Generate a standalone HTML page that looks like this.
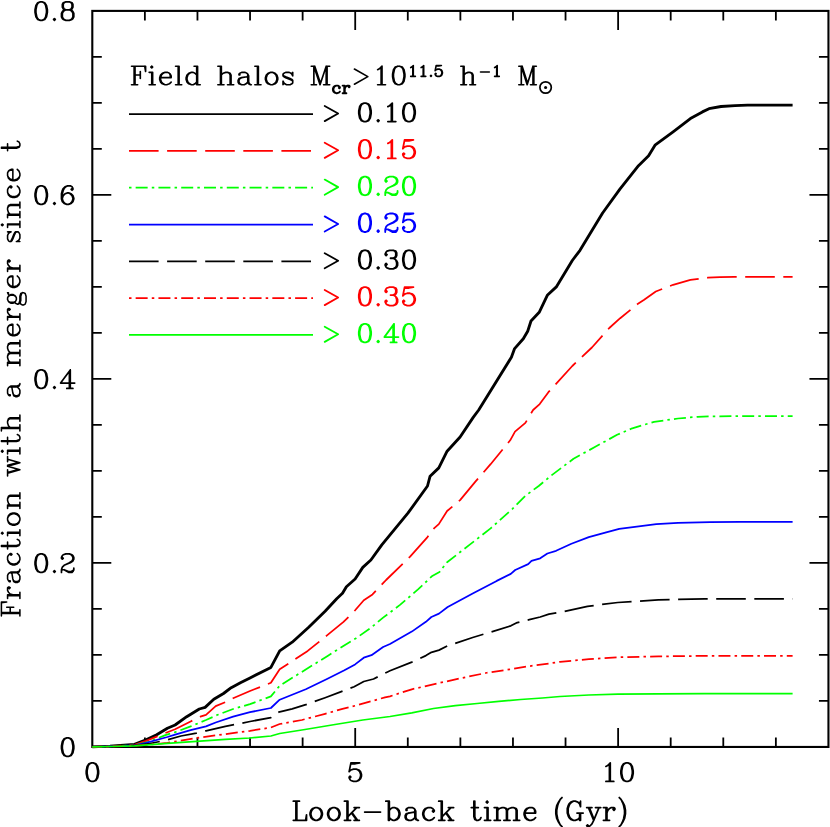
<!DOCTYPE html>
<html><head><meta charset="utf-8"><title>Merger fraction</title>
<style>html,body{margin:0;padding:0;background:#fff;font-family:"Liberation Sans",sans-serif;}svg{display:block}</style></head>
<body>
<svg width="830" height="827" viewBox="0 0 830 827">
<rect width="830" height="827" fill="#fff"/>
<rect x="92.30" y="10.90" width="736.15" height="736.05" fill="none" stroke="#000" stroke-width="2.10"/>
<path d="M144.88 746.95 v-9.50 M144.88 10.90 v9.50 M197.46 746.95 v-9.50 M197.46 10.90 v9.50 M250.05 746.95 v-9.50 M250.05 10.90 v9.50 M302.63 746.95 v-9.50 M302.63 10.90 v9.50 M355.21 746.95 v-19.00 M355.21 10.90 v19.00 M407.79 746.95 v-9.50 M407.79 10.90 v9.50 M460.38 746.95 v-9.50 M460.38 10.90 v9.50 M512.96 746.95 v-9.50 M512.96 10.90 v9.50 M565.54 746.95 v-9.50 M565.54 10.90 v9.50 M618.12 746.95 v-19.00 M618.12 10.90 v19.00 M670.70 746.95 v-9.50 M670.70 10.90 v9.50 M723.29 746.95 v-9.50 M723.29 10.90 v9.50 M775.87 746.95 v-9.50 M775.87 10.90 v9.50 M92.30 700.95 h9.50 M828.45 700.95 h-9.50 M92.30 654.94 h9.50 M828.45 654.94 h-9.50 M92.30 608.94 h9.50 M828.45 608.94 h-9.50 M92.30 562.94 h19.00 M828.45 562.94 h-19.00 M92.30 516.93 h9.50 M828.45 516.93 h-9.50 M92.30 470.93 h9.50 M828.45 470.93 h-9.50 M92.30 424.93 h9.50 M828.45 424.93 h-9.50 M92.30 378.93 h19.00 M828.45 378.93 h-19.00 M92.30 332.92 h9.50 M828.45 332.92 h-9.50 M92.30 286.92 h9.50 M828.45 286.92 h-9.50 M92.30 240.92 h9.50 M828.45 240.92 h-9.50 M92.30 194.91 h19.00 M828.45 194.91 h-19.00 M92.30 148.91 h9.50 M828.45 148.91 h-9.50 M92.30 102.91 h9.50 M828.45 102.91 h-9.50 M92.30 56.90 h9.50 M828.45 56.90 h-9.50" stroke="#000" stroke-width="1.8" fill="none"/>
<path d="M92.3 746.9 L110.0 746.2 L134.5 744.4 L146.1 739.9 L156.7 734.7 L167.4 728.3 L175.1 725.0 L186.7 716.7 L199.3 709.0 L205.1 707.4 L213.8 699.3 L223.5 693.5 L231.2 687.7 L240.9 682.5 L250.0 678.0 L270.9 667.4 L279.7 650.9 L292.2 642.2 L308.7 627.3 L325.1 611.3 L336.7 598.7 L342.5 593.3 L346.4 586.7 L355.1 579.0 L362.8 567.4 L370.9 560.0 L381.8 544.8 L407.9 513.2 L427.5 486.0 L430.1 476.2 L438.8 467.9 L447.1 451.2 L460.1 437.0 L473.2 417.4 L478.7 410.0 L511.4 357.3 L514.6 348.6 L523.3 338.8 L527.7 331.2 L531.0 321.0 L539.2 312.3 L547.3 295.3 L556.6 286.6 L572.3 260.5 L580.0 250.3 L602.6 213.0 L619.9 189.1 L638.5 165.7 L648.6 155.8 L655.0 145.2 L673.1 131.9 L690.4 118.6 L702.4 111.9 L709.0 108.7 L721.0 106.5 L735.0 105.6 L747.6 105.2 L765.0 105.1 L792.6 105.1" fill="none" stroke="#000" stroke-width="2.85" stroke-linejoin="round"/>
<path d="M92.3 746.9 L110.0 746.3 L134.5 744.8 L146.1 740.9 L156.7 736.6 L167.4 732.2 L175.1 729.3 L190.6 721.5 L200.3 716.7 L206.0 714.8 L215.7 706.1 L225.4 702.2 L233.1 698.3 L250.0 691.0 L270.9 682.8 L279.7 669.3 L307.7 650.9 L327.0 635.4 L343.5 621.9 L355.1 610.3 L363.8 600.2 L372.5 594.4 L383.1 583.2 L386.1 580.0 L410.1 556.7 L427.5 537.1 L434.0 528.4 L438.8 524.1 L447.1 511.0 L460.1 500.1 L475.4 481.6 L490.6 464.2 L510.2 440.3 L515.0 431.6 L525.4 422.9 L533.1 410.0 L539.7 404.1 L548.4 392.2 L572.3 366.0 L591.9 347.5 L609.3 328.0 L620.2 318.2 L637.6 304.0 L643.8 300.0 L655.8 291.5 L673.1 284.8 L690.4 279.8 L707.7 277.7 L720.0 277.1 L734.3 276.9 L792.6 276.9" fill="none" stroke="#f00" stroke-width="1.75" stroke-linejoin="round" stroke-dasharray="29.6 8.5" stroke-dashoffset="0.80"/>
<path d="M92.3 746.9 L110.0 746.4 L134.5 745.2 L150.0 741.5 L165.4 735.1 L175.1 732.2 L190.6 726.4 L206.0 720.0 L217.7 714.8 L233.1 709.0 L250.0 704.1 L270.9 696.4 L279.7 685.7 L307.7 668.3 L328.0 655.7 L345.4 644.7 L356.0 638.3 L371.5 627.3 L383.1 617.6 L400.0 604.9 L418.3 589.2 L431.8 576.3 L439.5 572.0 L447.1 562.2 L468.8 545.4 L490.6 528.4 L512.4 508.8 L525.4 495.8 L538.7 486.0 L551.8 475.1 L573.5 458.8 L595.3 446.8 L617.1 434.8 L632.3 428.3 L654.1 421.8 L678.0 418.5 L697.6 416.8 L710.0 416.4 L740.0 416.0 L792.6 416.0" fill="none" stroke="#0f0" stroke-width="1.75" stroke-linejoin="round" stroke-dasharray="2.5 4.15 12 4.13" stroke-dashoffset="7.17"/>
<path d="M92.3 746.9 L110.0 746.4 L134.5 745.4 L146.1 742.8 L167.4 737.0 L175.1 734.7 L190.6 730.2 L206.0 726.4 L215.7 722.5 L233.1 716.7 L250.0 712.2 L270.9 708.0 L279.7 699.7 L305.8 689.2 L327.0 679.0 L344.4 670.3 L355.1 664.4 L363.8 657.7 L371.5 655.2 L383.1 647.0 L390.0 644.0 L411.8 631.6 L425.9 621.8 L431.4 617.0 L439.0 613.6 L447.7 607.0 L472.7 593.5 L496.7 580.9 L510.8 573.9 L515.2 570.0 L528.2 564.1 L531.5 560.9 L540.2 558.3 L547.4 553.5 L556.1 550.8 L571.4 543.7 L588.8 537.1 L606.2 532.3 L619.2 528.9 L638.8 526.3 L656.3 524.1 L678.0 522.9 L710.0 522.1 L740.0 521.9 L792.6 521.9" fill="none" stroke="#00f" stroke-width="1.75" stroke-linejoin="round"/>
<path d="M92.3 746.9 L110.0 746.5 L134.5 745.6 L150.0 743.5 L167.4 739.9 L180.9 736.0 L196.4 733.1 L206.0 730.8 L225.4 726.4 L250.0 721.5 L270.9 717.6 L278.7 712.2 L292.2 708.9 L305.8 704.7 L325.1 697.7 L340.6 691.9 L354.1 686.7 L363.8 681.5 L373.5 679.0 L387.0 672.2 L390.0 670.8 L411.8 662.1 L425.9 655.6 L431.4 652.3 L439.0 650.1 L447.7 645.8 L472.7 637.5 L492.3 631.6 L510.8 625.8 L516.3 622.9 L529.3 619.7 L540.2 617.0 L548.9 614.2 L564.3 611.5 L587.5 606.3 L617.8 602.5 L658.3 599.9 L704.6 598.9 L792.6 598.9" fill="none" stroke="#000" stroke-width="1.75" stroke-linejoin="round" stroke-dasharray="29.6 8.5" stroke-dashoffset="37.98"/>
<path d="M92.3 746.9 L110.0 746.5 L134.5 745.8 L150.0 744.6 L167.4 742.8 L196.4 738.0 L225.4 734.1 L250.0 730.8 L270.9 727.5 L279.7 724.0 L301.9 720.0 L325.1 713.8 L342.5 708.9 L356.0 705.5 L371.5 701.2 L385.0 697.3 L390.0 696.3 L411.8 689.3 L440.1 682.8 L461.8 678.0 L485.8 673.0 L509.7 669.3 L531.5 665.8 L551.1 663.2 L560.0 661.8 L588.9 659.2 L617.8 657.2 L658.3 656.4 L704.6 655.9 L792.6 655.9" fill="none" stroke="#f00" stroke-width="1.75" stroke-linejoin="round" stroke-dasharray="2.5 4.15 12 4.13" stroke-dashoffset="8.95"/>
<path d="M92.3 746.9 L110.0 746.5 L134.5 745.9 L167.4 743.4 L196.4 741.3 L225.4 739.3 L250.0 738.0 L270.9 736.0 L279.7 733.5 L305.0 729.5 L335.0 724.5 L362.8 720.0 L390.0 716.5 L411.8 712.8 L433.5 708.5 L455.3 705.6 L477.1 703.5 L498.8 701.3 L520.6 699.5 L542.4 698.0 L560.0 696.5 L588.9 695.0 L617.8 694.2 L658.3 693.9 L704.6 693.6 L792.6 693.5" fill="none" stroke="#0f0" stroke-width="1.75" stroke-linejoin="round"/>
<path d="M129.0 114.10 H313.0" fill="none" stroke="#000" stroke-width="1.75"/>
<path transform="translate(324.70 121.10)" d="M0.00 -15.12 L13.44 -7.56 L0.00 0.00" fill="none" stroke="#000" stroke-width="1.80" stroke-linecap="round" stroke-linejoin="round"/>
<path transform="translate(358.80 121.60)" d="M5.29 -18.50 L2.64 -17.62 L0.88 -14.98 L0.00 -10.57 L0.00 -7.93 L0.88 -3.52 L2.64 -0.88 L5.29 0.00 L7.05 0.00 L9.69 -0.88 L11.45 -3.52 L12.33 -7.93 L12.33 -10.57 L11.45 -14.98 L9.69 -17.62 L7.05 -18.50 L5.29 -18.50 M5.29 -18.50 L3.52 -17.62 L2.64 -16.74 L1.76 -14.98 L0.88 -10.57 L0.88 -7.93 L1.76 -3.52 L2.64 -1.76 L3.52 -0.88 L5.29 0.00 M7.05 0.00 L8.81 -0.88 L9.69 -1.76 L10.57 -3.52 L11.45 -7.93 L11.45 -10.57 L10.57 -14.98 L9.69 -16.74 L8.81 -17.62 L7.05 -18.50 M19.38 -1.76 L18.50 -0.88 L19.38 0.00 L20.26 -0.88 L19.38 -1.76 M29.07 -14.98 L30.84 -15.86 L33.48 -18.50 L33.48 0.00 M32.60 -17.62 L32.60 0.00 M29.07 0.00 L37.00 0.00 M49.34 -18.50 L46.69 -17.62 L44.93 -14.98 L44.05 -10.57 L44.05 -7.93 L44.93 -3.52 L46.69 -0.88 L49.34 0.00 L51.10 0.00 L53.74 -0.88 L55.50 -3.52 L56.38 -7.93 L56.38 -10.57 L55.50 -14.98 L53.74 -17.62 L51.10 -18.50 L49.34 -18.50 M49.34 -18.50 L47.57 -17.62 L46.69 -16.74 L45.81 -14.98 L44.93 -10.57 L44.93 -7.93 L45.81 -3.52 L46.69 -1.76 L47.57 -0.88 L49.34 0.00 M51.10 0.00 L52.86 -0.88 L53.74 -1.76 L54.62 -3.52 L55.50 -7.93 L55.50 -10.57 L54.62 -14.98 L53.74 -16.74 L52.86 -17.62 L51.10 -18.50" fill="none" stroke="#000" stroke-width="1.80" stroke-linecap="round" stroke-linejoin="round"/>
<path d="M129.0 150.90 H313.0" fill="none" stroke="#f00" stroke-width="1.75" stroke-dasharray="29.6 8.5"/>
<path transform="translate(324.70 157.90)" d="M0.00 -15.12 L13.44 -7.56 L0.00 0.00" fill="none" stroke="#f00" stroke-width="1.80" stroke-linecap="round" stroke-linejoin="round"/>
<path transform="translate(358.80 158.40)" d="M5.29 -18.50 L2.64 -17.62 L0.88 -14.98 L0.00 -10.57 L0.00 -7.93 L0.88 -3.52 L2.64 -0.88 L5.29 0.00 L7.05 0.00 L9.69 -0.88 L11.45 -3.52 L12.33 -7.93 L12.33 -10.57 L11.45 -14.98 L9.69 -17.62 L7.05 -18.50 L5.29 -18.50 M5.29 -18.50 L3.52 -17.62 L2.64 -16.74 L1.76 -14.98 L0.88 -10.57 L0.88 -7.93 L1.76 -3.52 L2.64 -1.76 L3.52 -0.88 L5.29 0.00 M7.05 0.00 L8.81 -0.88 L9.69 -1.76 L10.57 -3.52 L11.45 -7.93 L11.45 -10.57 L10.57 -14.98 L9.69 -16.74 L8.81 -17.62 L7.05 -18.50 M19.38 -1.76 L18.50 -0.88 L19.38 0.00 L20.26 -0.88 L19.38 -1.76 M29.07 -14.98 L30.84 -15.86 L33.48 -18.50 L33.48 0.00 M32.60 -17.62 L32.60 0.00 M29.07 0.00 L37.00 0.00 M45.81 -18.50 L44.05 -9.69 M44.05 -9.69 L45.81 -11.45 L48.45 -12.33 L51.10 -12.33 L53.74 -11.45 L55.50 -9.69 L56.38 -7.05 L56.38 -5.29 L55.50 -2.64 L53.74 -0.88 L51.10 0.00 L48.45 0.00 L45.81 -0.88 L44.93 -1.76 L44.05 -3.52 L44.05 -4.41 L44.93 -5.29 L45.81 -4.41 L44.93 -3.52 M51.10 -12.33 L52.86 -11.45 L54.62 -9.69 L55.50 -7.05 L55.50 -5.29 L54.62 -2.64 L52.86 -0.88 L51.10 0.00 M45.81 -18.50 L54.62 -18.50 M45.81 -17.62 L50.22 -17.62 L54.62 -18.50" fill="none" stroke="#f00" stroke-width="1.80" stroke-linecap="round" stroke-linejoin="round"/>
<path d="M129.0 187.70 H313.0" fill="none" stroke="#0f0" stroke-width="1.75" stroke-dasharray="2.5 4.15 12 4.13"/>
<path transform="translate(324.70 194.70)" d="M0.00 -15.12 L13.44 -7.56 L0.00 0.00" fill="none" stroke="#0f0" stroke-width="1.80" stroke-linecap="round" stroke-linejoin="round"/>
<path transform="translate(358.80 195.20)" d="M5.29 -18.50 L2.64 -17.62 L0.88 -14.98 L0.00 -10.57 L0.00 -7.93 L0.88 -3.52 L2.64 -0.88 L5.29 0.00 L7.05 0.00 L9.69 -0.88 L11.45 -3.52 L12.33 -7.93 L12.33 -10.57 L11.45 -14.98 L9.69 -17.62 L7.05 -18.50 L5.29 -18.50 M5.29 -18.50 L3.52 -17.62 L2.64 -16.74 L1.76 -14.98 L0.88 -10.57 L0.88 -7.93 L1.76 -3.52 L2.64 -1.76 L3.52 -0.88 L5.29 0.00 M7.05 0.00 L8.81 -0.88 L9.69 -1.76 L10.57 -3.52 L11.45 -7.93 L11.45 -10.57 L10.57 -14.98 L9.69 -16.74 L8.81 -17.62 L7.05 -18.50 M19.38 -1.76 L18.50 -0.88 L19.38 0.00 L20.26 -0.88 L19.38 -1.76 M27.31 -14.98 L28.19 -14.10 L27.31 -13.21 L26.43 -14.10 L26.43 -14.98 L27.31 -16.74 L28.19 -17.62 L30.84 -18.50 L34.36 -18.50 L37.00 -17.62 L37.88 -16.74 L38.76 -14.98 L38.76 -13.21 L37.88 -11.45 L35.24 -9.69 L30.84 -7.93 L29.07 -7.05 L27.31 -5.29 L26.43 -2.64 L26.43 0.00 M34.36 -18.50 L36.12 -17.62 L37.00 -16.74 L37.88 -14.98 L37.88 -13.21 L37.00 -11.45 L34.36 -9.69 L30.84 -7.93 M26.43 -1.76 L27.31 -2.64 L29.07 -2.64 L33.48 -0.88 L36.12 -0.88 L37.88 -1.76 L38.76 -2.64 M29.07 -2.64 L33.48 0.00 L37.00 0.00 L37.88 -0.88 L38.76 -2.64 L38.76 -4.41 M49.34 -18.50 L46.69 -17.62 L44.93 -14.98 L44.05 -10.57 L44.05 -7.93 L44.93 -3.52 L46.69 -0.88 L49.34 0.00 L51.10 0.00 L53.74 -0.88 L55.50 -3.52 L56.38 -7.93 L56.38 -10.57 L55.50 -14.98 L53.74 -17.62 L51.10 -18.50 L49.34 -18.50 M49.34 -18.50 L47.57 -17.62 L46.69 -16.74 L45.81 -14.98 L44.93 -10.57 L44.93 -7.93 L45.81 -3.52 L46.69 -1.76 L47.57 -0.88 L49.34 0.00 M51.10 0.00 L52.86 -0.88 L53.74 -1.76 L54.62 -3.52 L55.50 -7.93 L55.50 -10.57 L54.62 -14.98 L53.74 -16.74 L52.86 -17.62 L51.10 -18.50" fill="none" stroke="#0f0" stroke-width="1.80" stroke-linecap="round" stroke-linejoin="round"/>
<path d="M129.0 224.50 H313.0" fill="none" stroke="#00f" stroke-width="1.75"/>
<path transform="translate(324.70 231.50)" d="M0.00 -15.12 L13.44 -7.56 L0.00 0.00" fill="none" stroke="#00f" stroke-width="1.80" stroke-linecap="round" stroke-linejoin="round"/>
<path transform="translate(358.80 232.00)" d="M5.29 -18.50 L2.64 -17.62 L0.88 -14.98 L0.00 -10.57 L0.00 -7.93 L0.88 -3.52 L2.64 -0.88 L5.29 0.00 L7.05 0.00 L9.69 -0.88 L11.45 -3.52 L12.33 -7.93 L12.33 -10.57 L11.45 -14.98 L9.69 -17.62 L7.05 -18.50 L5.29 -18.50 M5.29 -18.50 L3.52 -17.62 L2.64 -16.74 L1.76 -14.98 L0.88 -10.57 L0.88 -7.93 L1.76 -3.52 L2.64 -1.76 L3.52 -0.88 L5.29 0.00 M7.05 0.00 L8.81 -0.88 L9.69 -1.76 L10.57 -3.52 L11.45 -7.93 L11.45 -10.57 L10.57 -14.98 L9.69 -16.74 L8.81 -17.62 L7.05 -18.50 M19.38 -1.76 L18.50 -0.88 L19.38 0.00 L20.26 -0.88 L19.38 -1.76 M27.31 -14.98 L28.19 -14.10 L27.31 -13.21 L26.43 -14.10 L26.43 -14.98 L27.31 -16.74 L28.19 -17.62 L30.84 -18.50 L34.36 -18.50 L37.00 -17.62 L37.88 -16.74 L38.76 -14.98 L38.76 -13.21 L37.88 -11.45 L35.24 -9.69 L30.84 -7.93 L29.07 -7.05 L27.31 -5.29 L26.43 -2.64 L26.43 0.00 M34.36 -18.50 L36.12 -17.62 L37.00 -16.74 L37.88 -14.98 L37.88 -13.21 L37.00 -11.45 L34.36 -9.69 L30.84 -7.93 M26.43 -1.76 L27.31 -2.64 L29.07 -2.64 L33.48 -0.88 L36.12 -0.88 L37.88 -1.76 L38.76 -2.64 M29.07 -2.64 L33.48 0.00 L37.00 0.00 L37.88 -0.88 L38.76 -2.64 L38.76 -4.41 M45.81 -18.50 L44.05 -9.69 M44.05 -9.69 L45.81 -11.45 L48.45 -12.33 L51.10 -12.33 L53.74 -11.45 L55.50 -9.69 L56.38 -7.05 L56.38 -5.29 L55.50 -2.64 L53.74 -0.88 L51.10 0.00 L48.45 0.00 L45.81 -0.88 L44.93 -1.76 L44.05 -3.52 L44.05 -4.41 L44.93 -5.29 L45.81 -4.41 L44.93 -3.52 M51.10 -12.33 L52.86 -11.45 L54.62 -9.69 L55.50 -7.05 L55.50 -5.29 L54.62 -2.64 L52.86 -0.88 L51.10 0.00 M45.81 -18.50 L54.62 -18.50 M45.81 -17.62 L50.22 -17.62 L54.62 -18.50" fill="none" stroke="#00f" stroke-width="1.80" stroke-linecap="round" stroke-linejoin="round"/>
<path d="M129.0 261.30 H313.0" fill="none" stroke="#000" stroke-width="1.75" stroke-dasharray="29.6 8.5"/>
<path transform="translate(324.70 268.30)" d="M0.00 -15.12 L13.44 -7.56 L0.00 0.00" fill="none" stroke="#000" stroke-width="1.80" stroke-linecap="round" stroke-linejoin="round"/>
<path transform="translate(358.80 268.80)" d="M5.29 -18.50 L2.64 -17.62 L0.88 -14.98 L0.00 -10.57 L0.00 -7.93 L0.88 -3.52 L2.64 -0.88 L5.29 0.00 L7.05 0.00 L9.69 -0.88 L11.45 -3.52 L12.33 -7.93 L12.33 -10.57 L11.45 -14.98 L9.69 -17.62 L7.05 -18.50 L5.29 -18.50 M5.29 -18.50 L3.52 -17.62 L2.64 -16.74 L1.76 -14.98 L0.88 -10.57 L0.88 -7.93 L1.76 -3.52 L2.64 -1.76 L3.52 -0.88 L5.29 0.00 M7.05 0.00 L8.81 -0.88 L9.69 -1.76 L10.57 -3.52 L11.45 -7.93 L11.45 -10.57 L10.57 -14.98 L9.69 -16.74 L8.81 -17.62 L7.05 -18.50 M19.38 -1.76 L18.50 -0.88 L19.38 0.00 L20.26 -0.88 L19.38 -1.76 M27.31 -14.98 L28.19 -14.10 L27.31 -13.21 L26.43 -14.10 L26.43 -14.98 L27.31 -16.74 L28.19 -17.62 L30.84 -18.50 L34.36 -18.50 L37.00 -17.62 L37.88 -15.86 L37.88 -13.21 L37.00 -11.45 L34.36 -10.57 L31.72 -10.57 M34.36 -18.50 L36.12 -17.62 L37.00 -15.86 L37.00 -13.21 L36.12 -11.45 L34.36 -10.57 M34.36 -10.57 L36.12 -9.69 L37.88 -7.93 L38.76 -6.17 L38.76 -3.52 L37.88 -1.76 L37.00 -0.88 L34.36 0.00 L30.84 0.00 L28.19 -0.88 L27.31 -1.76 L26.43 -3.52 L26.43 -4.41 L27.31 -5.29 L28.19 -4.41 L27.31 -3.52 M37.00 -8.81 L37.88 -6.17 L37.88 -3.52 L37.00 -1.76 L36.12 -0.88 L34.36 0.00 M49.34 -18.50 L46.69 -17.62 L44.93 -14.98 L44.05 -10.57 L44.05 -7.93 L44.93 -3.52 L46.69 -0.88 L49.34 0.00 L51.10 0.00 L53.74 -0.88 L55.50 -3.52 L56.38 -7.93 L56.38 -10.57 L55.50 -14.98 L53.74 -17.62 L51.10 -18.50 L49.34 -18.50 M49.34 -18.50 L47.57 -17.62 L46.69 -16.74 L45.81 -14.98 L44.93 -10.57 L44.93 -7.93 L45.81 -3.52 L46.69 -1.76 L47.57 -0.88 L49.34 0.00 M51.10 0.00 L52.86 -0.88 L53.74 -1.76 L54.62 -3.52 L55.50 -7.93 L55.50 -10.57 L54.62 -14.98 L53.74 -16.74 L52.86 -17.62 L51.10 -18.50" fill="none" stroke="#000" stroke-width="1.80" stroke-linecap="round" stroke-linejoin="round"/>
<path d="M129.0 298.10 H313.0" fill="none" stroke="#f00" stroke-width="1.75" stroke-dasharray="2.5 4.15 12 4.13"/>
<path transform="translate(324.70 305.10)" d="M0.00 -15.12 L13.44 -7.56 L0.00 0.00" fill="none" stroke="#f00" stroke-width="1.80" stroke-linecap="round" stroke-linejoin="round"/>
<path transform="translate(358.80 305.60)" d="M5.29 -18.50 L2.64 -17.62 L0.88 -14.98 L0.00 -10.57 L0.00 -7.93 L0.88 -3.52 L2.64 -0.88 L5.29 0.00 L7.05 0.00 L9.69 -0.88 L11.45 -3.52 L12.33 -7.93 L12.33 -10.57 L11.45 -14.98 L9.69 -17.62 L7.05 -18.50 L5.29 -18.50 M5.29 -18.50 L3.52 -17.62 L2.64 -16.74 L1.76 -14.98 L0.88 -10.57 L0.88 -7.93 L1.76 -3.52 L2.64 -1.76 L3.52 -0.88 L5.29 0.00 M7.05 0.00 L8.81 -0.88 L9.69 -1.76 L10.57 -3.52 L11.45 -7.93 L11.45 -10.57 L10.57 -14.98 L9.69 -16.74 L8.81 -17.62 L7.05 -18.50 M19.38 -1.76 L18.50 -0.88 L19.38 0.00 L20.26 -0.88 L19.38 -1.76 M27.31 -14.98 L28.19 -14.10 L27.31 -13.21 L26.43 -14.10 L26.43 -14.98 L27.31 -16.74 L28.19 -17.62 L30.84 -18.50 L34.36 -18.50 L37.00 -17.62 L37.88 -15.86 L37.88 -13.21 L37.00 -11.45 L34.36 -10.57 L31.72 -10.57 M34.36 -18.50 L36.12 -17.62 L37.00 -15.86 L37.00 -13.21 L36.12 -11.45 L34.36 -10.57 M34.36 -10.57 L36.12 -9.69 L37.88 -7.93 L38.76 -6.17 L38.76 -3.52 L37.88 -1.76 L37.00 -0.88 L34.36 0.00 L30.84 0.00 L28.19 -0.88 L27.31 -1.76 L26.43 -3.52 L26.43 -4.41 L27.31 -5.29 L28.19 -4.41 L27.31 -3.52 M37.00 -8.81 L37.88 -6.17 L37.88 -3.52 L37.00 -1.76 L36.12 -0.88 L34.36 0.00 M45.81 -18.50 L44.05 -9.69 M44.05 -9.69 L45.81 -11.45 L48.45 -12.33 L51.10 -12.33 L53.74 -11.45 L55.50 -9.69 L56.38 -7.05 L56.38 -5.29 L55.50 -2.64 L53.74 -0.88 L51.10 0.00 L48.45 0.00 L45.81 -0.88 L44.93 -1.76 L44.05 -3.52 L44.05 -4.41 L44.93 -5.29 L45.81 -4.41 L44.93 -3.52 M51.10 -12.33 L52.86 -11.45 L54.62 -9.69 L55.50 -7.05 L55.50 -5.29 L54.62 -2.64 L52.86 -0.88 L51.10 0.00 M45.81 -18.50 L54.62 -18.50 M45.81 -17.62 L50.22 -17.62 L54.62 -18.50" fill="none" stroke="#f00" stroke-width="1.80" stroke-linecap="round" stroke-linejoin="round"/>
<path d="M129.0 334.90 H313.0" fill="none" stroke="#0f0" stroke-width="1.75"/>
<path transform="translate(324.70 341.90)" d="M0.00 -15.12 L13.44 -7.56 L0.00 0.00" fill="none" stroke="#0f0" stroke-width="1.80" stroke-linecap="round" stroke-linejoin="round"/>
<path transform="translate(358.80 342.40)" d="M5.29 -18.50 L2.64 -17.62 L0.88 -14.98 L0.00 -10.57 L0.00 -7.93 L0.88 -3.52 L2.64 -0.88 L5.29 0.00 L7.05 0.00 L9.69 -0.88 L11.45 -3.52 L12.33 -7.93 L12.33 -10.57 L11.45 -14.98 L9.69 -17.62 L7.05 -18.50 L5.29 -18.50 M5.29 -18.50 L3.52 -17.62 L2.64 -16.74 L1.76 -14.98 L0.88 -10.57 L0.88 -7.93 L1.76 -3.52 L2.64 -1.76 L3.52 -0.88 L5.29 0.00 M7.05 0.00 L8.81 -0.88 L9.69 -1.76 L10.57 -3.52 L11.45 -7.93 L11.45 -10.57 L10.57 -14.98 L9.69 -16.74 L8.81 -17.62 L7.05 -18.50 M19.38 -1.76 L18.50 -0.88 L19.38 0.00 L20.26 -0.88 L19.38 -1.76 M34.36 -16.74 L34.36 0.00 M35.24 -18.50 L35.24 0.00 M35.24 -18.50 L25.55 -5.29 L39.65 -5.29 M31.72 0.00 L37.88 0.00 M49.34 -18.50 L46.69 -17.62 L44.93 -14.98 L44.05 -10.57 L44.05 -7.93 L44.93 -3.52 L46.69 -0.88 L49.34 0.00 L51.10 0.00 L53.74 -0.88 L55.50 -3.52 L56.38 -7.93 L56.38 -10.57 L55.50 -14.98 L53.74 -17.62 L51.10 -18.50 L49.34 -18.50 M49.34 -18.50 L47.57 -17.62 L46.69 -16.74 L45.81 -14.98 L44.93 -10.57 L44.93 -7.93 L45.81 -3.52 L46.69 -1.76 L47.57 -0.88 L49.34 0.00 M51.10 0.00 L52.86 -0.88 L53.74 -1.76 L54.62 -3.52 L55.50 -7.93 L55.50 -10.57 L54.62 -14.98 L53.74 -16.74 L52.86 -17.62 L51.10 -18.50" fill="none" stroke="#0f0" stroke-width="1.80" stroke-linecap="round" stroke-linejoin="round"/>
<path transform="translate(131.50 84.70)" d="M2.64 -18.50 L2.64 0.00 M3.52 -18.50 L3.52 0.00 M8.81 -13.21 L8.81 -6.17 M0.00 -18.50 L14.10 -18.50 L14.10 -13.21 L13.21 -18.50 M3.52 -9.69 L8.81 -9.69 M0.00 0.00 L6.17 0.00 M20.26 -18.50 L19.38 -17.62 L20.26 -16.74 L21.14 -17.62 L20.26 -18.50 M20.26 -12.33 L20.26 0.00 M21.14 -12.33 L21.14 0.00 M17.62 -12.33 L21.14 -12.33 M17.62 0.00 L23.79 0.00 M29.07 -7.05 L39.65 -7.05 L39.65 -8.81 L38.76 -10.57 L37.88 -11.45 L36.12 -12.33 L33.48 -12.33 L30.84 -11.45 L29.07 -9.69 L28.19 -7.05 L28.19 -5.29 L29.07 -2.64 L30.84 -0.88 L33.48 0.00 L35.24 0.00 L37.88 -0.88 L39.65 -2.64 M38.76 -7.05 L38.76 -9.69 L37.88 -11.45 M33.48 -12.33 L31.72 -11.45 L29.95 -9.69 L29.07 -7.05 L29.07 -5.29 L29.95 -2.64 L31.72 -0.88 L33.48 0.00 M46.69 -18.50 L46.69 0.00 M47.57 -18.50 L47.57 0.00 M44.05 -18.50 L47.57 -18.50 M44.05 0.00 L50.22 0.00 M65.19 -18.50 L65.19 0.00 M66.08 -18.50 L66.08 0.00 M65.19 -9.69 L63.43 -11.45 L61.67 -12.33 L59.91 -12.33 L57.27 -11.45 L55.50 -9.69 L54.62 -7.05 L54.62 -5.29 L55.50 -2.64 L57.27 -0.88 L59.91 0.00 L61.67 0.00 L63.43 -0.88 L65.19 -2.64 M59.91 -12.33 L58.15 -11.45 L56.38 -9.69 L55.50 -7.05 L55.50 -5.29 L56.38 -2.64 L58.15 -0.88 L59.91 0.00 M62.55 -18.50 L66.08 -18.50 M65.19 0.00 L68.72 0.00 M88.98 -18.50 L88.98 0.00 M89.86 -18.50 L89.86 0.00 M89.86 -9.69 L91.62 -11.45 L94.27 -12.33 L96.03 -12.33 L98.67 -11.45 L99.55 -9.69 L99.55 0.00 M96.03 -12.33 L97.79 -11.45 L98.67 -9.69 L98.67 0.00 M86.34 -18.50 L89.86 -18.50 M86.34 0.00 L92.50 0.00 M96.03 0.00 L102.20 0.00 M108.36 -10.57 L108.36 -9.69 L107.48 -9.69 L107.48 -10.57 L108.36 -11.45 L110.12 -12.33 L113.65 -12.33 L115.41 -11.45 L116.29 -10.57 L117.17 -8.81 L117.17 -2.64 L118.05 -0.88 L118.94 0.00 M116.29 -10.57 L116.29 -2.64 L117.17 -0.88 L118.94 0.00 L119.82 0.00 M116.29 -8.81 L115.41 -7.93 L110.12 -7.05 L107.48 -6.17 L106.60 -4.41 L106.60 -2.64 L107.48 -0.88 L110.12 0.00 L112.77 0.00 L114.53 -0.88 L116.29 -2.64 M110.12 -7.05 L108.36 -6.17 L107.48 -4.41 L107.48 -2.64 L108.36 -0.88 L110.12 0.00 M125.98 -18.50 L125.98 0.00 M126.86 -18.50 L126.86 0.00 M123.34 -18.50 L126.86 -18.50 M123.34 0.00 L129.51 0.00 M139.20 -12.33 L136.56 -11.45 L134.79 -9.69 L133.91 -7.05 L133.91 -5.29 L134.79 -2.64 L136.56 -0.88 L139.20 0.00 L140.96 0.00 L143.60 -0.88 L145.37 -2.64 L146.25 -5.29 L146.25 -7.05 L145.37 -9.69 L143.60 -11.45 L140.96 -12.33 L139.20 -12.33 M139.20 -12.33 L137.44 -11.45 L135.67 -9.69 L134.79 -7.05 L134.79 -5.29 L135.67 -2.64 L137.44 -0.88 L139.20 0.00 M140.96 0.00 L142.72 -0.88 L144.48 -2.64 L145.37 -5.29 L145.37 -7.05 L144.48 -9.69 L142.72 -11.45 L140.96 -12.33 M160.34 -10.57 L161.22 -12.33 L161.22 -8.81 L160.34 -10.57 L159.46 -11.45 L157.70 -12.33 L154.18 -12.33 L152.41 -11.45 L151.53 -10.57 L151.53 -8.81 L152.41 -7.93 L154.18 -7.05 L158.58 -5.29 L160.34 -4.41 L161.22 -3.52 M151.53 -9.69 L152.41 -8.81 L154.18 -7.93 L158.58 -6.17 L160.34 -5.29 L161.22 -4.41 L161.22 -1.76 L160.34 -0.88 L158.58 0.00 L155.06 0.00 L153.29 -0.88 L152.41 -1.76 L151.53 -3.52 L151.53 0.00 L152.41 -1.76 M182.37 -18.50 L182.37 0.00 M183.25 -18.50 L188.53 -2.64 M182.37 -18.50 L188.53 0.00 M194.70 -18.50 L188.53 0.00 M194.70 -18.50 L194.70 0.00 M195.58 -18.50 L195.58 0.00 M179.72 -18.50 L183.25 -18.50 M194.70 -18.50 L198.22 -18.50 M179.72 0.00 L185.01 0.00 M192.06 0.00 L198.22 0.00" fill="none" stroke="#000" stroke-width="1.65" stroke-linecap="round" stroke-linejoin="round"/>
<path transform="translate(332.90 93.20)" d="M6.48 -5.94 L5.94 -5.40 L6.48 -4.86 L7.02 -5.40 L7.02 -5.94 L5.94 -7.02 L4.86 -7.56 L3.24 -7.56 L1.62 -7.02 L0.54 -5.94 L0.00 -4.32 L0.00 -3.24 L0.54 -1.62 L1.62 -0.54 L3.24 0.00 L4.32 0.00 L5.94 -0.54 L7.02 -1.62 M3.24 -7.56 L2.16 -7.02 L1.08 -5.94 L0.54 -4.32 L0.54 -3.24 L1.08 -1.62 L2.16 -0.54 L3.24 0.00 M11.34 -7.56 L11.34 0.00 M11.88 -7.56 L11.88 0.00 M11.88 -4.32 L12.42 -5.94 L13.50 -7.02 L14.58 -7.56 L16.20 -7.56 L16.74 -7.02 L16.74 -6.48 L16.20 -5.94 L15.66 -6.48 L16.20 -7.02 M9.72 -7.56 L11.88 -7.56 M9.72 0.00 L13.50 0.00" fill="none" stroke="#000" stroke-width="1.90" stroke-linecap="round" stroke-linejoin="round"/>
<path transform="translate(354.40 84.20)" d="M0.00 -15.12 L13.44 -7.56 L0.00 0.00" fill="none" stroke="#000" stroke-width="1.65" stroke-linecap="round" stroke-linejoin="round"/>
<path transform="translate(377.60 84.70)" d="M0.00 -14.98 L1.76 -15.86 L4.41 -18.50 L4.41 0.00 M3.52 -17.62 L3.52 0.00 M0.00 0.00 L7.93 0.00 M20.26 -18.50 L17.62 -17.62 L15.86 -14.98 L14.98 -10.57 L14.98 -7.93 L15.86 -3.52 L17.62 -0.88 L20.26 0.00 L22.02 0.00 L24.67 -0.88 L26.43 -3.52 L27.31 -7.93 L27.31 -10.57 L26.43 -14.98 L24.67 -17.62 L22.02 -18.50 L20.26 -18.50 M20.26 -18.50 L18.50 -17.62 L17.62 -16.74 L16.74 -14.98 L15.86 -10.57 L15.86 -7.93 L16.74 -3.52 L17.62 -1.76 L18.50 -0.88 L20.26 0.00 M22.02 0.00 L23.79 -0.88 L24.67 -1.76 L25.55 -3.52 L26.43 -7.93 L26.43 -10.57 L25.55 -14.98 L24.67 -16.74 L23.79 -17.62 L22.02 -18.50" fill="none" stroke="#000" stroke-width="1.65" stroke-linecap="round" stroke-linejoin="round"/>
<path transform="translate(410.70 76.40)" d="M0.00 -8.84 L1.04 -9.36 L2.60 -10.92 L2.60 0.00 M2.08 -10.40 L2.08 0.00 M0.00 0.00 L4.68 0.00 M10.40 -8.84 L11.44 -9.36 L13.00 -10.92 L13.00 0.00 M12.48 -10.40 L12.48 0.00 M10.40 0.00 L15.08 0.00 M20.28 -1.04 L19.76 -0.52 L20.28 0.00 L20.80 -0.52 L20.28 -1.04 M25.48 -10.92 L24.44 -5.72 M24.44 -5.72 L25.48 -6.76 L27.04 -7.28 L28.60 -7.28 L30.16 -6.76 L31.20 -5.72 L31.72 -4.16 L31.72 -3.12 L31.20 -1.56 L30.16 -0.52 L28.60 0.00 L27.04 0.00 L25.48 -0.52 L24.96 -1.04 L24.44 -2.08 L24.44 -2.60 L24.96 -3.12 L25.48 -2.60 L24.96 -2.08 M28.60 -7.28 L29.64 -6.76 L30.68 -5.72 L31.20 -4.16 L31.20 -3.12 L30.68 -1.56 L29.64 -0.52 L28.60 0.00 M25.48 -10.92 L30.68 -10.92 M25.48 -10.40 L28.08 -10.40 L30.68 -10.92" fill="none" stroke="#000" stroke-width="1.60" stroke-linecap="round" stroke-linejoin="round"/>
<path transform="translate(460.80 84.70)" d="M2.46 -18.50 L2.46 0.00 M3.28 -18.50 L3.28 0.00 M3.28 -9.69 L4.92 -11.45 L7.38 -12.33 L9.02 -12.33 L11.48 -11.45 L12.30 -9.69 L12.30 0.00 M9.02 -12.33 L10.66 -11.45 L11.48 -9.69 L11.48 0.00 M0.00 -18.50 L3.28 -18.50 M0.00 0.00 L5.74 0.00 M9.02 0.00 L14.76 0.00" fill="none" stroke="#000" stroke-width="1.65" stroke-linecap="round" stroke-linejoin="round"/>
<path transform="translate(480.50 76.40)" d="M0.00 -4.41 L8.82 -4.41" fill="none" stroke="#000" stroke-width="1.60" stroke-linecap="round" stroke-linejoin="round"/>
<path transform="translate(494.60 76.40)" d="M0.00 -8.84 L1.04 -9.36 L2.60 -10.92 L2.60 0.00 M2.08 -10.40 L2.08 0.00 M0.00 0.00 L4.68 0.00" fill="none" stroke="#000" stroke-width="1.60" stroke-linecap="round" stroke-linejoin="round"/>
<path transform="translate(518.80 84.70)" d="M2.50 -18.50 L2.50 0.00 M3.34 -18.50 L8.35 -2.64 M2.50 -18.50 L8.35 0.00 M14.20 -18.50 L8.35 0.00 M14.20 -18.50 L14.20 0.00 M15.03 -18.50 L15.03 0.00 M0.00 -18.50 L3.34 -18.50 M14.20 -18.50 L17.54 -18.50 M0.00 0.00 L5.01 0.00 M11.69 0.00 L17.54 0.00" fill="none" stroke="#000" stroke-width="1.65" stroke-linecap="round" stroke-linejoin="round"/>
<circle cx="545.6" cy="87.5" r="5.7" fill="none" stroke="#000" stroke-width="1.7"/><circle cx="545.6" cy="87.5" r="1.55" fill="#000"/>
<path transform="translate(76.45 20.35)" d="M-36.12 -18.50 L-38.76 -17.62 L-40.53 -14.98 L-41.41 -10.57 L-41.41 -7.93 L-40.53 -3.52 L-38.76 -0.88 L-36.12 0.00 L-34.36 0.00 L-31.72 -0.88 L-29.95 -3.52 L-29.07 -7.93 L-29.07 -10.57 L-29.95 -14.98 L-31.72 -17.62 L-34.36 -18.50 L-36.12 -18.50 M-36.12 -18.50 L-37.88 -17.62 L-38.76 -16.74 L-39.65 -14.98 L-40.53 -10.57 L-40.53 -7.93 L-39.65 -3.52 L-38.76 -1.76 L-37.88 -0.88 L-36.12 0.00 M-34.36 0.00 L-32.60 -0.88 L-31.72 -1.76 L-30.84 -3.52 L-29.95 -7.93 L-29.95 -10.57 L-30.84 -14.98 L-31.72 -16.74 L-32.60 -17.62 L-34.36 -18.50 M-22.02 -1.76 L-22.91 -0.88 L-22.02 0.00 L-21.14 -0.88 L-22.02 -1.76 M-10.57 -18.50 L-13.21 -17.62 L-14.10 -15.86 L-14.10 -13.21 L-13.21 -11.45 L-10.57 -10.57 L-7.05 -10.57 L-4.41 -11.45 L-3.52 -13.21 L-3.52 -15.86 L-4.41 -17.62 L-7.05 -18.50 L-10.57 -18.50 M-10.57 -18.50 L-12.33 -17.62 L-13.21 -15.86 L-13.21 -13.21 L-12.33 -11.45 L-10.57 -10.57 M-7.05 -10.57 L-5.29 -11.45 L-4.41 -13.21 L-4.41 -15.86 L-5.29 -17.62 L-7.05 -18.50 M-10.57 -10.57 L-13.21 -9.69 L-14.10 -8.81 L-14.98 -7.05 L-14.98 -3.52 L-14.10 -1.76 L-13.21 -0.88 L-10.57 0.00 L-7.05 0.00 L-4.41 -0.88 L-3.52 -1.76 L-2.64 -3.52 L-2.64 -7.05 L-3.52 -8.81 L-4.41 -9.69 L-7.05 -10.57 M-10.57 -10.57 L-12.33 -9.69 L-13.21 -8.81 L-14.10 -7.05 L-14.10 -3.52 L-13.21 -1.76 L-12.33 -0.88 L-10.57 0.00 M-7.05 0.00 L-5.29 -0.88 L-4.41 -1.76 L-3.52 -3.52 L-3.52 -7.05 L-4.41 -8.81 L-5.29 -9.69 L-7.05 -10.57" fill="none" stroke="#000" stroke-width="1.70" stroke-linecap="round" stroke-linejoin="round"/>
<path transform="translate(76.45 204.36)" d="M-36.12 -18.50 L-38.76 -17.62 L-40.53 -14.98 L-41.41 -10.57 L-41.41 -7.93 L-40.53 -3.52 L-38.76 -0.88 L-36.12 0.00 L-34.36 0.00 L-31.72 -0.88 L-29.95 -3.52 L-29.07 -7.93 L-29.07 -10.57 L-29.95 -14.98 L-31.72 -17.62 L-34.36 -18.50 L-36.12 -18.50 M-36.12 -18.50 L-37.88 -17.62 L-38.76 -16.74 L-39.65 -14.98 L-40.53 -10.57 L-40.53 -7.93 L-39.65 -3.52 L-38.76 -1.76 L-37.88 -0.88 L-36.12 0.00 M-34.36 0.00 L-32.60 -0.88 L-31.72 -1.76 L-30.84 -3.52 L-29.95 -7.93 L-29.95 -10.57 L-30.84 -14.98 L-31.72 -16.74 L-32.60 -17.62 L-34.36 -18.50 M-22.02 -1.76 L-22.91 -0.88 L-22.02 0.00 L-21.14 -0.88 L-22.02 -1.76 M-4.41 -15.86 L-5.29 -14.98 L-4.41 -14.10 L-3.52 -14.98 L-3.52 -15.86 L-4.41 -17.62 L-6.17 -18.50 L-8.81 -18.50 L-11.45 -17.62 L-13.21 -15.86 L-14.10 -14.10 L-14.98 -10.57 L-14.98 -5.29 L-14.10 -2.64 L-12.33 -0.88 L-9.69 0.00 L-7.93 0.00 L-5.29 -0.88 L-3.52 -2.64 L-2.64 -5.29 L-2.64 -6.17 L-3.52 -8.81 L-5.29 -10.57 L-7.93 -11.45 L-8.81 -11.45 L-11.45 -10.57 L-13.21 -8.81 L-14.10 -6.17 M-8.81 -18.50 L-10.57 -17.62 L-12.33 -15.86 L-13.21 -14.10 L-14.10 -10.57 L-14.10 -5.29 L-13.21 -2.64 L-11.45 -0.88 L-9.69 0.00 M-7.93 0.00 L-6.17 -0.88 L-4.41 -2.64 L-3.52 -5.29 L-3.52 -6.17 L-4.41 -8.81 L-6.17 -10.57 L-7.93 -11.45" fill="none" stroke="#000" stroke-width="1.70" stroke-linecap="round" stroke-linejoin="round"/>
<path transform="translate(76.45 388.38)" d="M-36.12 -18.50 L-38.76 -17.62 L-40.53 -14.98 L-41.41 -10.57 L-41.41 -7.93 L-40.53 -3.52 L-38.76 -0.88 L-36.12 0.00 L-34.36 0.00 L-31.72 -0.88 L-29.95 -3.52 L-29.07 -7.93 L-29.07 -10.57 L-29.95 -14.98 L-31.72 -17.62 L-34.36 -18.50 L-36.12 -18.50 M-36.12 -18.50 L-37.88 -17.62 L-38.76 -16.74 L-39.65 -14.98 L-40.53 -10.57 L-40.53 -7.93 L-39.65 -3.52 L-38.76 -1.76 L-37.88 -0.88 L-36.12 0.00 M-34.36 0.00 L-32.60 -0.88 L-31.72 -1.76 L-30.84 -3.52 L-29.95 -7.93 L-29.95 -10.57 L-30.84 -14.98 L-31.72 -16.74 L-32.60 -17.62 L-34.36 -18.50 M-22.02 -1.76 L-22.91 -0.88 L-22.02 0.00 L-21.14 -0.88 L-22.02 -1.76 M-7.05 -16.74 L-7.05 0.00 M-6.17 -18.50 L-6.17 0.00 M-6.17 -18.50 L-15.86 -5.29 L-1.76 -5.29 M-9.69 0.00 L-3.52 0.00" fill="none" stroke="#000" stroke-width="1.70" stroke-linecap="round" stroke-linejoin="round"/>
<path transform="translate(76.45 572.39)" d="M-36.12 -18.50 L-38.76 -17.62 L-40.53 -14.98 L-41.41 -10.57 L-41.41 -7.93 L-40.53 -3.52 L-38.76 -0.88 L-36.12 0.00 L-34.36 0.00 L-31.72 -0.88 L-29.95 -3.52 L-29.07 -7.93 L-29.07 -10.57 L-29.95 -14.98 L-31.72 -17.62 L-34.36 -18.50 L-36.12 -18.50 M-36.12 -18.50 L-37.88 -17.62 L-38.76 -16.74 L-39.65 -14.98 L-40.53 -10.57 L-40.53 -7.93 L-39.65 -3.52 L-38.76 -1.76 L-37.88 -0.88 L-36.12 0.00 M-34.36 0.00 L-32.60 -0.88 L-31.72 -1.76 L-30.84 -3.52 L-29.95 -7.93 L-29.95 -10.57 L-30.84 -14.98 L-31.72 -16.74 L-32.60 -17.62 L-34.36 -18.50 M-22.02 -1.76 L-22.91 -0.88 L-22.02 0.00 L-21.14 -0.88 L-22.02 -1.76 M-14.10 -14.98 L-13.21 -14.10 L-14.10 -13.21 L-14.98 -14.10 L-14.98 -14.98 L-14.10 -16.74 L-13.21 -17.62 L-10.57 -18.50 L-7.05 -18.50 L-4.41 -17.62 L-3.52 -16.74 L-2.64 -14.98 L-2.64 -13.21 L-3.52 -11.45 L-6.17 -9.69 L-10.57 -7.93 L-12.33 -7.05 L-14.10 -5.29 L-14.98 -2.64 L-14.98 0.00 M-7.05 -18.50 L-5.29 -17.62 L-4.41 -16.74 L-3.52 -14.98 L-3.52 -13.21 L-4.41 -11.45 L-7.05 -9.69 L-10.57 -7.93 M-14.98 -1.76 L-14.10 -2.64 L-12.33 -2.64 L-7.93 -0.88 L-5.29 -0.88 L-3.52 -1.76 L-2.64 -2.64 M-12.33 -2.64 L-7.93 0.00 L-4.41 0.00 L-3.52 -0.88 L-2.64 -2.64 L-2.64 -4.41" fill="none" stroke="#000" stroke-width="1.70" stroke-linecap="round" stroke-linejoin="round"/>
<path transform="translate(76.45 756.40)" d="M-9.69 -18.50 L-12.33 -17.62 L-14.10 -14.98 L-14.98 -10.57 L-14.98 -7.93 L-14.10 -3.52 L-12.33 -0.88 L-9.69 0.00 L-7.93 0.00 L-5.29 -0.88 L-3.52 -3.52 L-2.64 -7.93 L-2.64 -10.57 L-3.52 -14.98 L-5.29 -17.62 L-7.93 -18.50 L-9.69 -18.50 M-9.69 -18.50 L-11.45 -17.62 L-12.33 -16.74 L-13.21 -14.98 L-14.10 -10.57 L-14.10 -7.93 L-13.21 -3.52 L-12.33 -1.76 L-11.45 -0.88 L-9.69 0.00 M-7.93 0.00 L-6.17 -0.88 L-5.29 -1.76 L-4.41 -3.52 L-3.52 -7.93 L-3.52 -10.57 L-4.41 -14.98 L-5.29 -16.74 L-6.17 -17.62 L-7.93 -18.50" fill="none" stroke="#000" stroke-width="1.70" stroke-linecap="round" stroke-linejoin="round"/>
<path transform="translate(92.40 781.40)" d="M-0.88 -18.50 L-3.52 -17.62 L-5.29 -14.98 L-6.17 -10.57 L-6.17 -7.93 L-5.29 -3.52 L-3.52 -0.88 L-0.88 0.00 L0.88 0.00 L3.52 -0.88 L5.29 -3.52 L6.17 -7.93 L6.17 -10.57 L5.29 -14.98 L3.52 -17.62 L0.88 -18.50 L-0.88 -18.50 M-0.88 -18.50 L-2.64 -17.62 L-3.52 -16.74 L-4.41 -14.98 L-5.29 -10.57 L-5.29 -7.93 L-4.41 -3.52 L-3.52 -1.76 L-2.64 -0.88 L-0.88 0.00 M0.88 0.00 L2.64 -0.88 L3.52 -1.76 L4.41 -3.52 L5.29 -7.93 L5.29 -10.57 L4.41 -14.98 L3.52 -16.74 L2.64 -17.62 L0.88 -18.50" fill="none" stroke="#000" stroke-width="1.70" stroke-linecap="round" stroke-linejoin="round"/>
<path transform="translate(355.31 781.40)" d="M-4.41 -18.50 L-6.17 -9.69 M-6.17 -9.69 L-4.41 -11.45 L-1.76 -12.33 L0.88 -12.33 L3.52 -11.45 L5.29 -9.69 L6.17 -7.05 L6.17 -5.29 L5.29 -2.64 L3.52 -0.88 L0.88 0.00 L-1.76 0.00 L-4.41 -0.88 L-5.29 -1.76 L-6.17 -3.52 L-6.17 -4.41 L-5.29 -5.29 L-4.41 -4.41 L-5.29 -3.52 M0.88 -12.33 L2.64 -11.45 L4.41 -9.69 L5.29 -7.05 L5.29 -5.29 L4.41 -2.64 L2.64 -0.88 L0.88 0.00 M-4.41 -18.50 L4.41 -18.50 M-4.41 -17.62 L0.00 -17.62 L4.41 -18.50" fill="none" stroke="#000" stroke-width="1.70" stroke-linecap="round" stroke-linejoin="round"/>
<path transform="translate(618.22 781.40)" d="M-12.33 -14.98 L-10.57 -15.86 L-7.93 -18.50 L-7.93 0.00 M-8.81 -17.62 L-8.81 0.00 M-12.33 0.00 L-4.41 0.00 M7.93 -18.50 L5.29 -17.62 L3.52 -14.98 L2.64 -10.57 L2.64 -7.93 L3.52 -3.52 L5.29 -0.88 L7.93 0.00 L9.69 0.00 L12.33 -0.88 L14.10 -3.52 L14.98 -7.93 L14.98 -10.57 L14.10 -14.98 L12.33 -17.62 L9.69 -18.50 L7.93 -18.50 M7.93 -18.50 L6.17 -17.62 L5.29 -16.74 L4.41 -14.98 L3.52 -10.57 L3.52 -7.93 L4.41 -3.52 L5.29 -1.76 L6.17 -0.88 L7.93 0.00 M9.69 0.00 L11.45 -0.88 L12.33 -1.76 L13.21 -3.52 L14.10 -7.93 L14.10 -10.57 L13.21 -14.98 L12.33 -16.74 L11.45 -17.62 L9.69 -18.50" fill="none" stroke="#000" stroke-width="1.70" stroke-linecap="round" stroke-linejoin="round"/>
<path transform="translate(293.30 820.30)" d="M2.64 -19.11 L2.64 0.00 M3.52 -19.11 L3.52 0.00 M0.00 -19.11 L6.17 -19.11 M0.00 0.00 L13.21 0.00 L13.21 -5.46 L12.33 0.00 M22.02 -12.74 L19.38 -11.83 L17.62 -10.01 L16.74 -7.28 L16.74 -5.46 L17.62 -2.73 L19.38 -0.91 L22.02 0.00 L23.79 0.00 L26.43 -0.91 L28.19 -2.73 L29.07 -5.46 L29.07 -7.28 L28.19 -10.01 L26.43 -11.83 L23.79 -12.74 L22.02 -12.74 M22.02 -12.74 L20.26 -11.83 L18.50 -10.01 L17.62 -7.28 L17.62 -5.46 L18.50 -2.73 L20.26 -0.91 L22.02 0.00 M23.79 0.00 L25.55 -0.91 L27.31 -2.73 L28.19 -5.46 L28.19 -7.28 L27.31 -10.01 L25.55 -11.83 L23.79 -12.74 M39.65 -12.74 L37.00 -11.83 L35.24 -10.01 L34.36 -7.28 L34.36 -5.46 L35.24 -2.73 L37.00 -0.91 L39.65 0.00 L41.41 0.00 L44.05 -0.91 L45.81 -2.73 L46.69 -5.46 L46.69 -7.28 L45.81 -10.01 L44.05 -11.83 L41.41 -12.74 L39.65 -12.74 M39.65 -12.74 L37.88 -11.83 L36.12 -10.01 L35.24 -7.28 L35.24 -5.46 L36.12 -2.73 L37.88 -0.91 L39.65 0.00 M41.41 0.00 L43.17 -0.91 L44.93 -2.73 L45.81 -5.46 L45.81 -7.28 L44.93 -10.01 L43.17 -11.83 L41.41 -12.74 M53.74 -19.11 L53.74 0.00 M54.62 -19.11 L54.62 0.00 M63.43 -12.74 L54.62 -3.64 M59.03 -7.28 L64.31 0.00 M58.15 -7.28 L63.43 0.00 M51.10 -19.11 L54.62 -19.11 M60.79 -12.74 L66.08 -12.74 M51.10 0.00 L57.27 0.00 M60.79 0.00 L66.08 0.00 M71.36 -8.19 L87.22 -8.19 M95.15 -19.11 L95.15 0.00 M96.03 -19.11 L96.03 0.00 M96.03 -10.01 L97.79 -11.83 L99.55 -12.74 L101.31 -12.74 L103.96 -11.83 L105.72 -10.01 L106.60 -7.28 L106.60 -5.46 L105.72 -2.73 L103.96 -0.91 L101.31 0.00 L99.55 0.00 L97.79 -0.91 L96.03 -2.73 M101.31 -12.74 L103.08 -11.83 L104.84 -10.01 L105.72 -7.28 L105.72 -5.46 L104.84 -2.73 L103.08 -0.91 L101.31 0.00 M92.50 -19.11 L96.03 -19.11 M113.65 -10.92 L113.65 -10.01 L112.77 -10.01 L112.77 -10.92 L113.65 -11.83 L115.41 -12.74 L118.94 -12.74 L120.70 -11.83 L121.58 -10.92 L122.46 -9.10 L122.46 -2.73 L123.34 -0.91 L124.22 0.00 M121.58 -10.92 L121.58 -2.73 L122.46 -0.91 L124.22 0.00 L125.10 0.00 M121.58 -9.10 L120.70 -8.19 L115.41 -7.28 L112.77 -6.37 L111.89 -4.55 L111.89 -2.73 L112.77 -0.91 L115.41 0.00 L118.05 0.00 L119.82 -0.91 L121.58 -2.73 M115.41 -7.28 L113.65 -6.37 L112.77 -4.55 L112.77 -2.73 L113.65 -0.91 L115.41 0.00 M140.08 -10.01 L139.20 -9.10 L140.08 -8.19 L140.96 -9.10 L140.96 -10.01 L139.20 -11.83 L137.44 -12.74 L134.79 -12.74 L132.15 -11.83 L130.39 -10.01 L129.51 -7.28 L129.51 -5.46 L130.39 -2.73 L132.15 -0.91 L134.79 0.00 L136.56 0.00 L139.20 -0.91 L140.96 -2.73 M134.79 -12.74 L133.03 -11.83 L131.27 -10.01 L130.39 -7.28 L130.39 -5.46 L131.27 -2.73 L133.03 -0.91 L134.79 0.00 M148.01 -19.11 L148.01 0.00 M148.89 -19.11 L148.89 0.00 M157.70 -12.74 L148.89 -3.64 M153.29 -7.28 L158.58 0.00 M152.41 -7.28 L157.70 0.00 M145.37 -19.11 L148.89 -19.11 M155.06 -12.74 L160.34 -12.74 M145.37 0.00 L151.53 0.00 M155.06 0.00 L160.34 0.00 M180.60 -19.11 L180.60 -3.64 L181.49 -0.91 L183.25 0.00 L185.01 0.00 L186.77 -0.91 L187.65 -2.73 M181.49 -19.11 L181.49 -3.64 L182.37 -0.91 L183.25 0.00 M177.96 -12.74 L185.01 -12.74 M193.82 -19.11 L192.94 -18.20 L193.82 -17.29 L194.70 -18.20 L193.82 -19.11 M193.82 -12.74 L193.82 0.00 M194.70 -12.74 L194.70 0.00 M191.18 -12.74 L194.70 -12.74 M191.18 0.00 L197.34 0.00 M203.51 -12.74 L203.51 0.00 M204.39 -12.74 L204.39 0.00 M204.39 -10.01 L206.15 -11.83 L208.80 -12.74 L210.56 -12.74 L213.20 -11.83 L214.08 -10.01 L214.08 0.00 M210.56 -12.74 L212.32 -11.83 L213.20 -10.01 L213.20 0.00 M214.08 -10.01 L215.84 -11.83 L218.49 -12.74 L220.25 -12.74 L222.89 -11.83 L223.77 -10.01 L223.77 0.00 M220.25 -12.74 L222.01 -11.83 L222.89 -10.01 L222.89 0.00 M200.87 -12.74 L204.39 -12.74 M200.87 0.00 L207.03 0.00 M210.56 0.00 L216.73 0.00 M220.25 0.00 L226.42 0.00 M231.70 -7.28 L242.28 -7.28 L242.28 -9.10 L241.39 -10.92 L240.51 -11.83 L238.75 -12.74 L236.11 -12.74 L233.47 -11.83 L231.70 -10.01 L230.82 -7.28 L230.82 -5.46 L231.70 -2.73 L233.47 -0.91 L236.11 0.00 L237.87 0.00 L240.51 -0.91 L242.28 -2.73 M241.39 -7.28 L241.39 -10.01 L240.51 -11.83 M236.11 -12.74 L234.35 -11.83 L232.58 -10.01 L231.70 -7.28 L231.70 -5.46 L232.58 -2.73 L234.35 -0.91 L236.11 0.00 M268.70 -22.75 L266.94 -20.93 L265.18 -18.20 L263.42 -14.56 L262.54 -10.01 L262.54 -6.37 L263.42 -1.82 L265.18 1.82 L266.94 4.55 L268.70 6.37 M266.94 -20.93 L265.18 -17.29 L264.30 -14.56 L263.42 -10.01 L263.42 -6.37 L264.30 -1.82 L265.18 0.91 L266.94 4.55 M286.32 -16.38 L287.21 -13.65 L287.21 -19.11 L286.32 -16.38 L284.56 -18.20 L281.92 -19.11 L280.16 -19.11 L277.51 -18.20 L275.75 -16.38 L274.87 -14.56 L273.99 -11.83 L273.99 -7.28 L274.87 -4.55 L275.75 -2.73 L277.51 -0.91 L280.16 0.00 L281.92 0.00 L284.56 -0.91 L286.32 -2.73 M280.16 -19.11 L278.40 -18.20 L276.63 -16.38 L275.75 -14.56 L274.87 -11.83 L274.87 -7.28 L275.75 -4.55 L276.63 -2.73 L278.40 -0.91 L280.16 0.00 M286.32 -7.28 L286.32 0.00 M287.21 -7.28 L287.21 0.00 M283.68 -7.28 L289.85 -7.28 M295.13 -12.74 L300.42 0.00 M296.02 -12.74 L300.42 -1.82 M305.71 -12.74 L300.42 0.00 L298.66 3.64 L296.90 5.46 L295.13 6.37 L294.25 6.37 L293.37 5.46 L294.25 4.55 L295.13 5.46 M293.37 -12.74 L298.66 -12.74 M302.18 -12.74 L307.47 -12.74 M312.75 -12.74 L312.75 0.00 M313.64 -12.74 L313.64 0.00 M313.64 -7.28 L314.52 -10.01 L316.28 -11.83 L318.04 -12.74 L320.68 -12.74 L321.56 -11.83 L321.56 -10.92 L320.68 -10.01 L319.80 -10.92 L320.68 -11.83 M310.11 -12.74 L313.64 -12.74 M310.11 0.00 L316.28 0.00 M325.97 -22.75 L327.73 -20.93 L329.49 -18.20 L331.26 -14.56 L332.14 -10.01 L332.14 -6.37 L331.26 -1.82 L329.49 1.82 L327.73 4.55 L325.97 6.37 M327.73 -20.93 L329.49 -17.29 L330.38 -14.56 L331.26 -10.01 L331.26 -6.37 L330.38 -1.82 L329.49 0.91 L327.73 4.55" fill="none" stroke="#000" stroke-width="1.75" stroke-linecap="round" stroke-linejoin="round"/>
<path transform="translate(19.90 616.00) rotate(-90)" d="M2.64 -18.50 L2.64 0.00 M3.52 -18.50 L3.52 0.00 M8.81 -13.21 L8.81 -6.17 M0.00 -18.50 L14.10 -18.50 L14.10 -13.21 L13.21 -18.50 M3.52 -9.69 L8.81 -9.69 M0.00 0.00 L6.17 0.00 M20.26 -12.33 L20.26 0.00 M21.14 -12.33 L21.14 0.00 M21.14 -7.05 L22.02 -9.69 L23.79 -11.45 L25.55 -12.33 L28.19 -12.33 L29.07 -11.45 L29.07 -10.57 L28.19 -9.69 L27.31 -10.57 L28.19 -11.45 M17.62 -12.33 L21.14 -12.33 M17.62 0.00 L23.79 0.00 M35.24 -10.57 L35.24 -9.69 L34.36 -9.69 L34.36 -10.57 L35.24 -11.45 L37.00 -12.33 L40.53 -12.33 L42.29 -11.45 L43.17 -10.57 L44.05 -8.81 L44.05 -2.64 L44.93 -0.88 L45.81 0.00 M43.17 -10.57 L43.17 -2.64 L44.05 -0.88 L45.81 0.00 L46.69 0.00 M43.17 -8.81 L42.29 -7.93 L37.00 -7.05 L34.36 -6.17 L33.48 -4.41 L33.48 -2.64 L34.36 -0.88 L37.00 0.00 L39.65 0.00 L41.41 -0.88 L43.17 -2.64 M37.00 -7.05 L35.24 -6.17 L34.36 -4.41 L34.36 -2.64 L35.24 -0.88 L37.00 0.00 M61.67 -9.69 L60.79 -8.81 L61.67 -7.93 L62.55 -8.81 L62.55 -9.69 L60.79 -11.45 L59.03 -12.33 L56.38 -12.33 L53.74 -11.45 L51.98 -9.69 L51.10 -7.05 L51.10 -5.29 L51.98 -2.64 L53.74 -0.88 L56.38 0.00 L58.15 0.00 L60.79 -0.88 L62.55 -2.64 M56.38 -12.33 L54.62 -11.45 L52.86 -9.69 L51.98 -7.05 L51.98 -5.29 L52.86 -2.64 L54.62 -0.88 L56.38 0.00 M69.60 -18.50 L69.60 -3.52 L70.48 -0.88 L72.24 0.00 L74.00 0.00 L75.77 -0.88 L76.65 -2.64 M70.48 -18.50 L70.48 -3.52 L71.36 -0.88 L72.24 0.00 M66.96 -12.33 L74.00 -12.33 M82.81 -18.50 L81.93 -17.62 L82.81 -16.74 L83.70 -17.62 L82.81 -18.50 M82.81 -12.33 L82.81 0.00 M83.70 -12.33 L83.70 0.00 M80.17 -12.33 L83.70 -12.33 M80.17 0.00 L86.34 0.00 M96.03 -12.33 L93.39 -11.45 L91.62 -9.69 L90.74 -7.05 L90.74 -5.29 L91.62 -2.64 L93.39 -0.88 L96.03 0.00 L97.79 0.00 L100.43 -0.88 L102.20 -2.64 L103.08 -5.29 L103.08 -7.05 L102.20 -9.69 L100.43 -11.45 L97.79 -12.33 L96.03 -12.33 M96.03 -12.33 L94.27 -11.45 L92.50 -9.69 L91.62 -7.05 L91.62 -5.29 L92.50 -2.64 L94.27 -0.88 L96.03 0.00 M97.79 0.00 L99.55 -0.88 L101.31 -2.64 L102.20 -5.29 L102.20 -7.05 L101.31 -9.69 L99.55 -11.45 L97.79 -12.33 M110.12 -12.33 L110.12 0.00 M111.01 -12.33 L111.01 0.00 M111.01 -9.69 L112.77 -11.45 L115.41 -12.33 L117.17 -12.33 L119.82 -11.45 L120.70 -9.69 L120.70 0.00 M117.17 -12.33 L118.94 -11.45 L119.82 -9.69 L119.82 0.00 M107.48 -12.33 L111.01 -12.33 M107.48 0.00 L113.65 0.00 M117.17 0.00 L123.34 0.00 M142.72 -12.33 L146.25 0.00 M143.60 -12.33 L146.25 -2.64 M149.77 -12.33 L146.25 0.00 M149.77 -12.33 L153.29 0.00 M150.65 -12.33 L153.29 -2.64 M156.82 -12.33 L153.29 0.00 M140.08 -12.33 L146.25 -12.33 M154.18 -12.33 L159.46 -12.33 M164.75 -18.50 L163.87 -17.62 L164.75 -16.74 L165.63 -17.62 L164.75 -18.50 M164.75 -12.33 L164.75 0.00 M165.63 -12.33 L165.63 0.00 M162.10 -12.33 L165.63 -12.33 M162.10 0.00 L168.27 0.00 M174.44 -18.50 L174.44 -3.52 L175.32 -0.88 L177.08 0.00 L178.84 0.00 L180.60 -0.88 L181.49 -2.64 M175.32 -18.50 L175.32 -3.52 L176.20 -0.88 L177.08 0.00 M171.79 -12.33 L178.84 -12.33 M187.65 -18.50 L187.65 0.00 M188.53 -18.50 L188.53 0.00 M188.53 -9.69 L190.30 -11.45 L192.94 -12.33 L194.70 -12.33 L197.34 -11.45 L198.22 -9.69 L198.22 0.00 M194.70 -12.33 L196.46 -11.45 L197.34 -9.69 L197.34 0.00 M185.01 -18.50 L188.53 -18.50 M185.01 0.00 L191.18 0.00 M194.70 0.00 L200.87 0.00 M221.13 -10.57 L221.13 -9.69 L220.25 -9.69 L220.25 -10.57 L221.13 -11.45 L222.89 -12.33 L226.42 -12.33 L228.18 -11.45 L229.06 -10.57 L229.94 -8.81 L229.94 -2.64 L230.82 -0.88 L231.70 0.00 M229.06 -10.57 L229.06 -2.64 L229.94 -0.88 L231.70 0.00 L232.58 0.00 M229.06 -8.81 L228.18 -7.93 L222.89 -7.05 L220.25 -6.17 L219.37 -4.41 L219.37 -2.64 L220.25 -0.88 L222.89 0.00 L225.54 0.00 L227.30 -0.88 L229.06 -2.64 M222.89 -7.05 L221.13 -6.17 L220.25 -4.41 L220.25 -2.64 L221.13 -0.88 L222.89 0.00 M252.85 -12.33 L252.85 0.00 M253.73 -12.33 L253.73 0.00 M253.73 -9.69 L255.49 -11.45 L258.13 -12.33 L259.89 -12.33 L262.54 -11.45 L263.42 -9.69 L263.42 0.00 M259.89 -12.33 L261.66 -11.45 L262.54 -9.69 L262.54 0.00 M263.42 -9.69 L265.18 -11.45 L267.82 -12.33 L269.59 -12.33 L272.23 -11.45 L273.11 -9.69 L273.11 0.00 M269.59 -12.33 L271.35 -11.45 L272.23 -9.69 L272.23 0.00 M250.20 -12.33 L253.73 -12.33 M250.20 0.00 L256.37 0.00 M259.89 0.00 L266.06 0.00 M269.59 0.00 L275.75 0.00 M281.04 -7.05 L291.61 -7.05 L291.61 -8.81 L290.73 -10.57 L289.85 -11.45 L288.09 -12.33 L285.44 -12.33 L282.80 -11.45 L281.04 -9.69 L280.16 -7.05 L280.16 -5.29 L281.04 -2.64 L282.80 -0.88 L285.44 0.00 L287.21 0.00 L289.85 -0.88 L291.61 -2.64 M290.73 -7.05 L290.73 -9.69 L289.85 -11.45 M285.44 -12.33 L283.68 -11.45 L281.92 -9.69 L281.04 -7.05 L281.04 -5.29 L281.92 -2.64 L283.68 -0.88 L285.44 0.00 M298.66 -12.33 L298.66 0.00 M299.54 -12.33 L299.54 0.00 M299.54 -7.05 L300.42 -9.69 L302.18 -11.45 L303.94 -12.33 L306.59 -12.33 L307.47 -11.45 L307.47 -10.57 L306.59 -9.69 L305.71 -10.57 L306.59 -11.45 M296.02 -12.33 L299.54 -12.33 M296.02 0.00 L302.18 0.00 M316.28 -12.33 L314.52 -11.45 L313.64 -10.57 L312.75 -8.81 L312.75 -7.05 L313.64 -5.29 L314.52 -4.41 L316.28 -3.52 L318.04 -3.52 L319.80 -4.41 L320.68 -5.29 L321.56 -7.05 L321.56 -8.81 L320.68 -10.57 L319.80 -11.45 L318.04 -12.33 L316.28 -12.33 M314.52 -11.45 L313.64 -9.69 L313.64 -6.17 L314.52 -4.41 M319.80 -4.41 L320.68 -6.17 L320.68 -9.69 L319.80 -11.45 M320.68 -10.57 L321.56 -11.45 L323.33 -12.33 L323.33 -11.45 L321.56 -11.45 M313.64 -5.29 L312.75 -4.41 L311.87 -2.64 L311.87 -1.76 L312.75 0.00 L315.40 0.88 L319.80 0.88 L322.45 1.76 L323.33 2.64 M311.87 -1.76 L312.75 -0.88 L315.40 0.00 L319.80 0.00 L322.45 0.88 L323.33 2.64 L323.33 3.52 L322.45 5.29 L319.80 6.17 L314.52 6.17 L311.87 5.29 L310.99 3.52 L310.99 2.64 L311.87 0.88 L314.52 0.00 M329.49 -7.05 L340.07 -7.05 L340.07 -8.81 L339.19 -10.57 L338.30 -11.45 L336.54 -12.33 L333.90 -12.33 L331.26 -11.45 L329.49 -9.69 L328.61 -7.05 L328.61 -5.29 L329.49 -2.64 L331.26 -0.88 L333.90 0.00 L335.66 0.00 L338.30 -0.88 L340.07 -2.64 M339.19 -7.05 L339.19 -9.69 L338.30 -11.45 M333.90 -12.33 L332.14 -11.45 L330.38 -9.69 L329.49 -7.05 L329.49 -5.29 L330.38 -2.64 L332.14 -0.88 L333.90 0.00 M347.11 -12.33 L347.11 0.00 M348.00 -12.33 L348.00 0.00 M348.00 -7.05 L348.88 -9.69 L350.64 -11.45 L352.40 -12.33 L355.04 -12.33 L355.92 -11.45 L355.92 -10.57 L355.04 -9.69 L354.16 -10.57 L355.04 -11.45 M344.47 -12.33 L348.00 -12.33 M344.47 0.00 L350.64 0.00 M383.24 -10.57 L384.12 -12.33 L384.12 -8.81 L383.24 -10.57 L382.35 -11.45 L380.59 -12.33 L377.07 -12.33 L375.31 -11.45 L374.43 -10.57 L374.43 -8.81 L375.31 -7.93 L377.07 -7.05 L381.47 -5.29 L383.24 -4.41 L384.12 -3.52 M374.43 -9.69 L375.31 -8.81 L377.07 -7.93 L381.47 -6.17 L383.24 -5.29 L384.12 -4.41 L384.12 -1.76 L383.24 -0.88 L381.47 0.00 L377.95 0.00 L376.19 -0.88 L375.31 -1.76 L374.43 -3.52 L374.43 0.00 L375.31 -1.76 M391.16 -18.50 L390.28 -17.62 L391.16 -16.74 L392.05 -17.62 L391.16 -18.50 M391.16 -12.33 L391.16 0.00 M392.05 -12.33 L392.05 0.00 M388.52 -12.33 L392.05 -12.33 M388.52 0.00 L394.69 0.00 M400.86 -12.33 L400.86 0.00 M401.74 -12.33 L401.74 0.00 M401.74 -9.69 L403.50 -11.45 L406.14 -12.33 L407.90 -12.33 L410.55 -11.45 L411.43 -9.69 L411.43 0.00 M407.90 -12.33 L409.67 -11.45 L410.55 -9.69 L410.55 0.00 M398.21 -12.33 L401.74 -12.33 M398.21 0.00 L404.38 0.00 M407.90 0.00 L414.07 0.00 M429.05 -9.69 L428.17 -8.81 L429.05 -7.93 L429.93 -8.81 L429.93 -9.69 L428.17 -11.45 L426.40 -12.33 L423.76 -12.33 L421.12 -11.45 L419.36 -9.69 L418.48 -7.05 L418.48 -5.29 L419.36 -2.64 L421.12 -0.88 L423.76 0.00 L425.52 0.00 L428.17 -0.88 L429.93 -2.64 M423.76 -12.33 L422.00 -11.45 L420.24 -9.69 L419.36 -7.05 L419.36 -5.29 L420.24 -2.64 L422.00 -0.88 L423.76 0.00 M436.10 -7.05 L446.67 -7.05 L446.67 -8.81 L445.79 -10.57 L444.91 -11.45 L443.14 -12.33 L440.50 -12.33 L437.86 -11.45 L436.10 -9.69 L435.21 -7.05 L435.21 -5.29 L436.10 -2.64 L437.86 -0.88 L440.50 0.00 L442.26 0.00 L444.91 -0.88 L446.67 -2.64 M445.79 -7.05 L445.79 -9.69 L444.91 -11.45 M440.50 -12.33 L438.74 -11.45 L436.98 -9.69 L436.10 -7.05 L436.10 -5.29 L436.98 -2.64 L438.74 -0.88 L440.50 0.00 M467.81 -18.50 L467.81 -3.52 L468.69 -0.88 L470.45 0.00 L472.22 0.00 L473.98 -0.88 L474.86 -2.64 M468.69 -18.50 L468.69 -3.52 L469.57 -0.88 L470.45 0.00 M465.17 -12.33 L472.22 -12.33" fill="none" stroke="#000" stroke-width="1.55" stroke-linecap="round" stroke-linejoin="round"/>
</svg>
</body></html>
